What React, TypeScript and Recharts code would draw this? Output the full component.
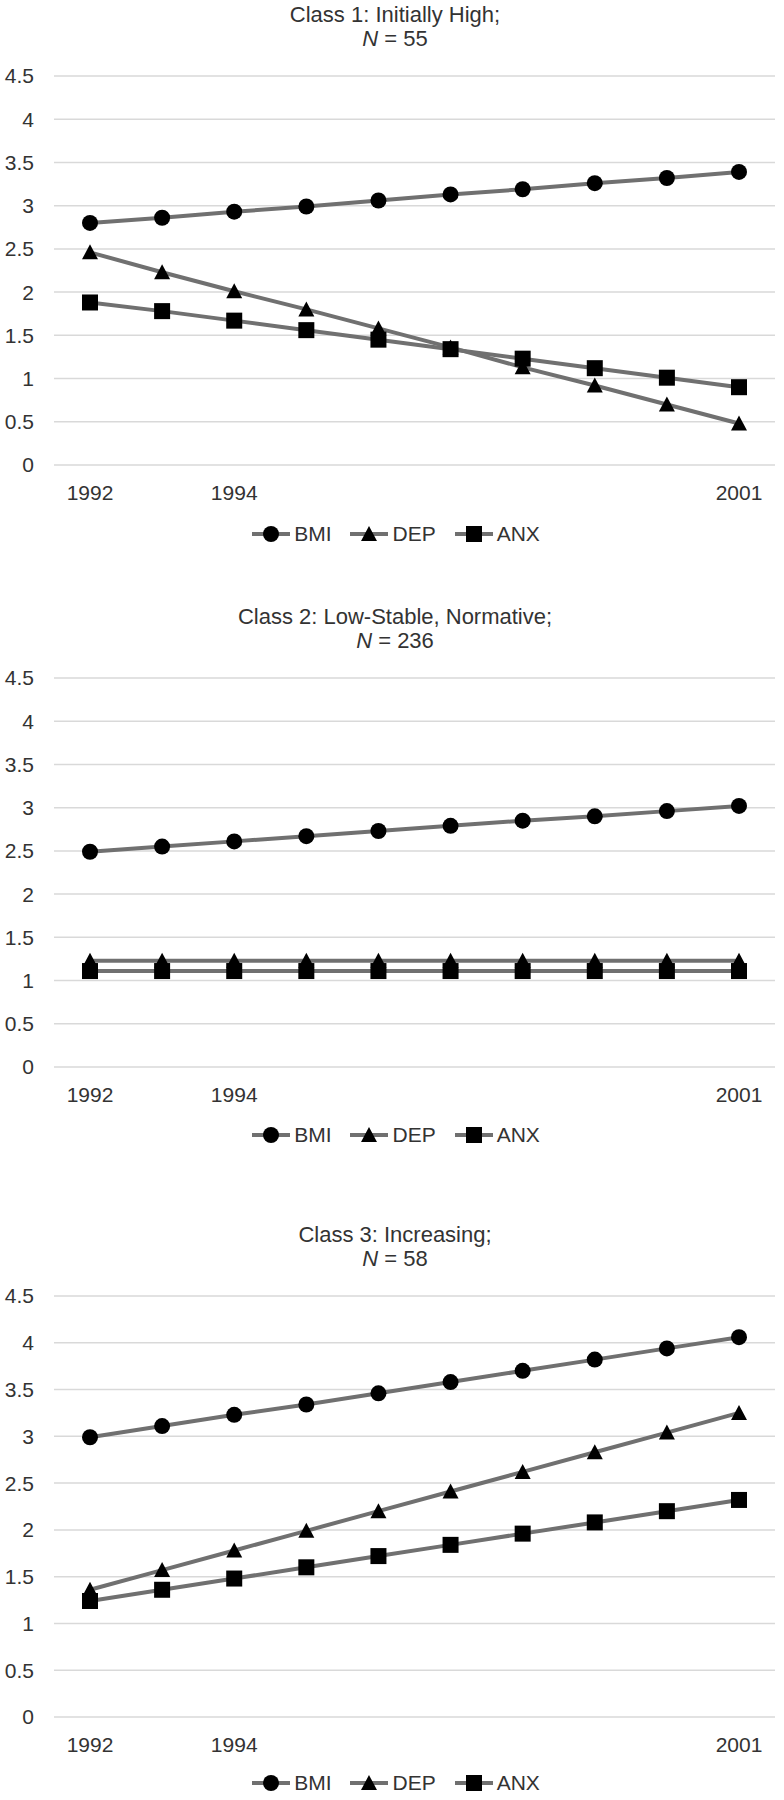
import * as React from "react";
import { CartesianGrid, Legend, Line, LineChart, XAxis, YAxis } from "recharts";

const years = ["1992", "1993", "1994", "1995", "1996", "1997", "1998", "1999", "2000", "2001"];
const tickYears = ["1992", "1994", "2001"];
const yTicks = [0, 0.5, 1, 1.5, 2, 2.5, 3, 3.5, 4, 4.5];

const class1Bmi = [2.8, 2.86, 2.93, 2.99, 3.06, 3.13, 3.19, 3.26, 3.32, 3.39];
const class1Dep = [2.46, 2.23, 2.01, 1.8, 1.58, 1.36, 1.13, 0.92, 0.7, 0.48];
const class1Anx = [1.88, 1.78, 1.67, 1.56, 1.45, 1.34, 1.23, 1.12, 1.01, 0.9];

const class2Bmi = [2.49, 2.55, 2.61, 2.67, 2.73, 2.79, 2.85, 2.9, 2.96, 3.02];
const class2Dep = [1.23, 1.23, 1.23, 1.23, 1.23, 1.23, 1.23, 1.23, 1.23, 1.23];
const class2Anx = [1.11, 1.11, 1.11, 1.11, 1.11, 1.11, 1.11, 1.11, 1.11, 1.11];

const class3Bmi = [2.99, 3.11, 3.23, 3.34, 3.46, 3.58, 3.7, 3.82, 3.94, 4.06];
const class3Dep = [1.36, 1.57, 1.78, 1.99, 2.2, 2.41, 2.62, 2.83, 3.04, 3.25];
const class3Anx = [1.24, 1.36, 1.48, 1.6, 1.72, 1.84, 1.96, 2.08, 2.2, 2.32];

const series = [
  { key: "BMI", shape: "circle" },
  { key: "DEP", shape: "triangle" },
  { key: "ANX", shape: "square" },
];

const LINE = "#707070";
const TEXT = "#333";
const FONT = '"Liberation Sans", Arial, sans-serif';

function Marker({ cx, cy, shape }: { cx?: number; cy?: number; shape: string }) {
  if (cx == null || cy == null) return null;
  if (shape === "circle") return <circle cx={cx} cy={cy} r={8} fill="#000" />;
  if (shape === "square") return <rect x={cx - 8} y={cy - 8} width={16} height={16} fill="#000" />;
  return <path d={`M${cx},${cy - 8}L${cx + 8},${cy + 7}L${cx - 8},${cy + 7}Z`} fill="#000" />;
}

function LegendRow() {
  return (
    <div
      style={{
        display: "flex",
        justifyContent: "center",
        alignItems: "center",
        height: 24,
        paddingLeft: 8,
        fontSize: 21,
        color: TEXT,
        fontFamily: FONT,
      }}
    >
      {series.map((s, i) => (
        <div key={s.key} style={{ display: "flex", alignItems: "center", marginRight: i < series.length - 1 ? 19 : 0 }}>
          <svg width={38} height={20}>
            <line x1={0} y1={10} x2={38} y2={10} stroke={LINE} strokeWidth={4} />
            <Marker cx={19} cy={10} shape={s.shape} />
          </svg>
          <span style={{ marginLeft: 4 }}>{s.key}</span>
        </div>
      ))}
    </div>
  );
}

interface ClassChartProps {
  title: string;
  n: number;
  bmi: number[];
  dep: number[];
  anx: number[];
  top: number;
  height: number;
  marginBottom: number;
  legendTop: number;
}

function ClassChart({ title, n, bmi, dep, anx, top, height, marginBottom, legendTop }: ClassChartProps) {
  const data = years.map((year, i) => ({ year, BMI: bmi[i], DEP: dep[i], ANX: anx[i] }));
  const tickStyle = { fill: TEXT, fontSize: 21, fontFamily: FONT };
  return (
    <div style={{ position: "absolute", left: 0, top, width: 784, height }}>
      <LineChart
        width={784}
        height={height}
        data={data}
        margin={{ top: 76, right: 9, left: 0, bottom: marginBottom }}
      >
        <CartesianGrid vertical={false} stroke="#d9d9d9" strokeWidth={1.5} />
        <XAxis
          dataKey="year"
          height={30}
          interval={0}
          padding={{ left: 36, right: 36 }}
          axisLine={false}
          tickLine={false}
          tickSize={0}
          tickMargin={20}
          tick={tickStyle}
          tickFormatter={(v: string) => (tickYears.includes(v) ? v : "")}
        />
        <YAxis
          width={54}
          domain={[0, 4.5]}
          ticks={yTicks}
          interval={0}
          axisLine={false}
          tickLine={false}
          tickSize={0}
          tickMargin={20}
          tick={tickStyle}
        />
        <Legend
          verticalAlign="middle"
          layout="horizontal"
          wrapperStyle={{ top: legendTop, left: 0, width: 784 }}
          content={() => <LegendRow />}
        />
        {series.map((s) => (
          <Line
            key={s.key}
            dataKey={s.key}
            type="linear"
            stroke={LINE}
            strokeWidth={4}
            isAnimationActive={false}
            activeDot={false}
            dot={(p: any) => <Marker key={`${s.key}-${p.index}`} cx={p.cx} cy={p.cy} shape={s.shape} />}
          />
        ))}
      </LineChart>
      <div
        style={{
          position: "absolute",
          top: 3,
          left: 3,
          width: 784,
          textAlign: "center",
          fontSize: 22,
          lineHeight: "24px",
          color: TEXT,
          fontFamily: FONT,
        }}
      >
        <div>{title}</div>
        <div>
          <i>N</i> = {n}
        </div>
      </div>
    </div>
  );
}

export default function App() {
  return (
    <div style={{ position: "absolute", left: 0, top: 0, width: 784, height: 1800, fontFamily: FONT, background: "#fff" }}>
      <ClassChart title="Class 1: Initially High;" n={55} bmi={class1Bmi} dep={class1Dep} anx={class1Anx}
        top={0} height={602} marginBottom={107} legendTop={522} />
      <ClassChart title="Class 2: Low-Stable, Normative;" n={236} bmi={class2Bmi} dep={class2Dep} anx={class2Anx}
        top={602} height={618} marginBottom={123} legendTop={521} />
      <ClassChart title="Class 3: Increasing;" n={58} bmi={class3Bmi} dep={class3Dep} anx={class3Anx}
        top={1220} height={580} marginBottom={53} legendTop={551} />
    </div>
  );
}
